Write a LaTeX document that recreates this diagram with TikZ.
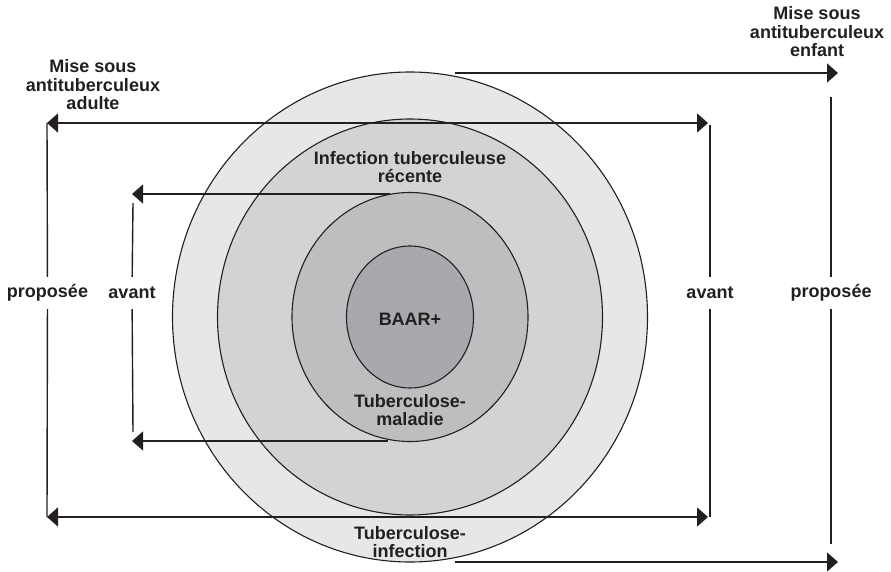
\documentclass[tikz,border=0pt]{standalone}
\usepackage{fontspec}
\setmainfont{Liberation Sans}
\usetikzlibrary{arrows.meta}
\definecolor{ink}{HTML}{231F20}
\definecolor{ringA}{HTML}{E6E7E8}
\definecolor{ringB}{HTML}{D1D3D4}
\definecolor{ringC}{HTML}{BCBEC0}
\definecolor{ringD}{HTML}{A7A9AC}
\tikzset{
  zone/.style={draw=ink, line width=1.1pt},
  lbl/.style={text=ink, font=\bfseries\fontsize{18}{18.5}\selectfont, align=center, inner sep=0pt},
  sidelbl/.style={lbl, minimum height=32pt, minimum width=20pt},
  link/.style={draw=ink, line width=1.4pt},
  tip/.tip={Triangle[length=11pt, width=19pt]},
  pointer/.style={link, -tip},
  span/.style={link, tip-tip},
}
\begin{document}
\begin{tikzpicture}[x=1pt, y=-1pt]
\useasboundingbox (0,0) rectangle (891,572);

% nested zones
\draw[zone, fill=ringA] (410,317) ellipse [x radius=237.5, y radius=245];
\draw[zone, fill=ringB] (410,317) ellipse [x radius=192.5, y radius=198];
\draw[zone, fill=ringC] (410,317) ellipse [x radius=118, y radius=124.5];
\draw[zone, fill=ringD] (410,317) ellipse [x radius=63.5, y radius=71];

% zone labels
\node[lbl] (recent) at (410,167) {Infection tuberculeuse\\récente};
\node[lbl] (baar) at (410,319) {BAAR+};
\node[lbl] (maladie) at (410,410) {Tuberculose-\\maladie};
\node[lbl] (infect) at (410,542) {Tuberculose-\\infection};

% headings
\node[lbl] (adulte) at (93,85) {Mise sous\\antituberculeux\\adulte};
\node[lbl] (enfant) at (817,32) {Mise sous\\antituberculeux\\enfant};

% side labels
\node[sidelbl] (propL) at (47.5,293) {proposée};
\node[sidelbl] (avantL) at (132,293) {avant};
\node[sidelbl] (avantR) at (710,293) {avant};
\node[sidelbl] (propR) at (831,293) {proposée};

% anchor points of the brackets
\coordinate (aTL) at (47,123);
\coordinate (aTR) at (708,123);
\coordinate (aBL) at (47,517);
\coordinate (aBR) at (708,517);
\coordinate (vLtop) at (47,123);
\coordinate (vLbot) at (47,517);
\coordinate (vRtop) at (710,125);
\coordinate (vRbot) at (710,517);

\coordinate (iTs) at (390,194);
\coordinate (iTe) at (132,194);
\coordinate (iBs) at (388,441);
\coordinate (iBe) at (132,441);
\coordinate (iVtop) at (133,203);
\coordinate (iVbot) at (133,432);

\coordinate (eTs) at (455,73);
\coordinate (eTe) at (838,73);
\coordinate (eBs) at (455,562);
\coordinate (eBe) at (838,562);
\coordinate (eVtop) at (831,97);
\coordinate (eVbot) at (831,544);

% adult bracket
\draw[span] (aTL) -- (aTR);
\draw[span] (aBL) -- (aBR);
\draw[link] (vLtop) -- (propL);
\draw[link] (propL) -- (vLbot);
\draw[link] (vRtop) -- (avantR);
\draw[link] (avantR) -- (vRbot);

% recent infection bracket
\draw[pointer] (iTs) -- (iTe);
\draw[pointer] (iBs) -- (iBe);
\draw[link] (iVtop) -- (avantL);
\draw[link] (avantL) -- (iVbot);

% child bracket
\draw[pointer] (eTs) -- (eTe);
\draw[pointer] (eBs) -- (eBe);
\draw[link] (eVtop) -- (propR);
\draw[link] (propR) -- (eVbot);
\end{tikzpicture}
\end{document}
